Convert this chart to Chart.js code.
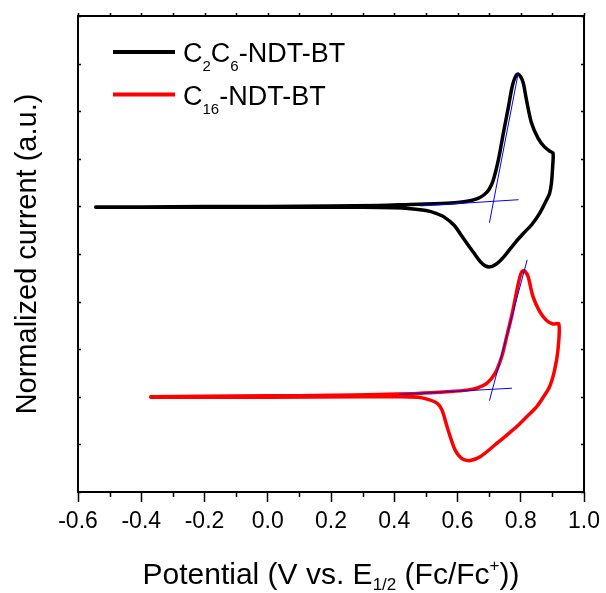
<!DOCTYPE html>
<html>
<head>
<meta charset="utf-8">
<script src="https://cdn.jsdelivr.net/npm/chart.js@4.4.1/dist/chart.umd.min.js"></script>
<style>
  html, body { margin: 0; padding: 0; background: #fff; }
  #wrap { width: 606px; height: 593px; }
</style>
</head>
<body>
<div id="wrap"><canvas id="cvChart" width="606" height="593"></canvas></div>
<script>
// Cyclic voltammograms (normalised, offset), potential in V vs. E1/2(Fc/Fc+)
const c2c6Potential = [-0.544, -0.4, -0.2, 0.0, 0.2, 0.35, 0.45, 0.55, 0.60, 0.64, 0.665, 0.685, 0.70,
  0.713, 0.729, 0.745, 0.761, 0.774, 0.785, 0.792, 0.800, 0.808, 0.818, 0.834, 0.855, 0.875, 0.894, 0.902,
  0.901, 0.897, 0.891, 0.881, 0.860, 0.835, 0.808, 0.780, 0.755, 0.735, 0.718, 0.703, 0.688, 0.672, 0.651,
  0.630, 0.609, 0.590, 0.557, 0.530, 0.504, 0.452, 0.40, 0.30, 0.10, -0.10, -0.30, -0.544];
const c2c6Current = [5.99, 5.99, 6.00, 6.00, 6.01, 6.02, 6.04, 6.06, 6.08, 6.12, 6.17, 6.25, 6.36,
  6.55, 6.97, 7.54, 8.09, 8.55, 8.75, 8.78, 8.72, 8.59, 8.24, 7.75, 7.43, 7.25, 7.15, 7.12,
  6.85, 6.49, 6.27, 6.13, 5.86, 5.62, 5.43, 5.22, 5.01, 4.86, 4.77, 4.73, 4.75, 4.84, 5.03,
  5.22, 5.42, 5.60, 5.78, 5.86, 5.91, 5.95, 5.97, 5.98, 5.98, 5.98, 5.98, 5.98];

const c16Potential = [-0.37, -0.2, 0.0, 0.2, 0.35, 0.473, 0.577, 0.63, 0.661, 0.6925, 0.7186, 0.7396,
  0.7553, 0.773, 0.790, 0.800, 0.8077, 0.8155, 0.8234, 0.839, 0.860, 0.8808, 0.9018, 0.9206,
  0.9175, 0.907, 0.891, 0.870, 0.850, 0.8187, 0.7867, 0.755, 0.724, 0.6715, 0.640, 0.620, 0.609,
  0.598, 0.588, 0.567, 0.551, 0.536, 0.504, 0.473, 0.40, 0.30, 0.0, -0.2, -0.37];
const c16Current = [2.00, 2.01, 2.02, 2.03, 2.05, 2.07, 2.11, 2.14, 2.18, 2.28, 2.49, 2.84,
  3.26, 3.75, 4.31, 4.58, 4.65, 4.62, 4.52, 4.10, 3.79, 3.61, 3.53, 3.53,
  2.98, 2.56, 2.21, 1.98, 1.79, 1.58, 1.37, 1.19, 1.02, 0.74, 0.66, 0.68, 0.73,
  0.82, 0.95, 1.37, 1.72, 1.86, 1.95, 1.99, 2.00, 2.00, 1.99, 1.99, 1.99];

// onset tangents (baseline and rising edge)
const c2c6BaseTanX = [0.483, 0.792];
const c2c6BaseTanY = [6.01, 6.14];
const c2c6RiseTanX = [0.701, 0.792];
const c2c6RiseTanY = [5.66, 8.80];
const c16BaseTanX = [0.4155, 0.771];
const c16BaseTanY = [2.05, 2.18];
const c16RiseTanX = [0.701, 0.820];
const c16RiseTanY = [1.92, 4.87];

const xMin = -0.6, xMax = 1.0, xStep = 0.2, xMinorStep = 0.1;
const yMin = 0, yMax = 10, yStep = 1;

const FONT = '"Liberation Sans", Arial, sans-serif';

const toPoints = (xs, ys) => xs.map((x, i) => ({ x: x, y: ys[i] }));

// text runs with sub/superscripts: [text, 'sub'|'sup'|undefined]
function richWidth(ctx, parts, size) {
    let w = 0;
    parts.forEach(([t, kind]) => {
        ctx.font = `${kind ? Math.round(size * 0.56) : size}px ${FONT}`;
        w += ctx.measureText(t).width;
    });
    return w;
}

function drawRich(ctx, parts, x, y, size, subShift) {
    let cx = x;
    parts.forEach(([t, kind]) => {
        ctx.font = `${kind ? Math.round(size * 0.56) : size}px ${FONT}`;
        let dy = 0;
        if (kind === 'sub') dy = size * subShift;
        if (kind === 'sup') dy = -size * 0.42;
        ctx.fillText(t, cx, y + dy);
        cx += ctx.measureText(t).width;
    });
}

const legendItems = [
    { color: '#000000', parts: [['C'], ['2', 'sub'], ['C'], ['6', 'sub'], ['-NDT-BT']] },
    { color: '#ff0000', parts: [['C'], ['16', 'sub'], ['-NDT-BT']] }
];

const xTitleParts = [['Potential (V vs. E'], ['1/2', 'sub'], [' (Fc/Fc'], ['+', 'sup'], ['))']];
const yTitle = 'Normalized current (a.u.)';

// ========================================
// FRAME, EXTRA TICKS, TITLES, LEGEND
// ========================================
const decorPlugin = {
    id: 'decor',
    afterDraw(chart) {
        const { ctx, chartArea: a, scales } = chart;
        const xs = scales.x, ys = scales.y;
        ctx.save();
        ctx.strokeStyle = '#000';
        ctx.fillStyle = '#000';

        // minor ticks below, short ticks on top
        ctx.lineWidth = 1.5;
        ctx.beginPath();
        for (let v = xMin; v <= xMax + 1e-9; v += xMinorStep) {
            const px = Math.round(xs.getPixelForValue(v)) + 0.5;
            const major = Math.abs(Math.round(v / xStep) * xStep - v) < 1e-6;
            if (!major) {
                ctx.moveTo(px, a.bottom);
                ctx.lineTo(px, a.bottom + 5);
            }
            ctx.moveTo(px, a.top);
            ctx.lineTo(px, a.top - 3);
        }
        // inward ticks on left and right
        ys.ticks.forEach(t => {
            const py = Math.round(ys.getPixelForValue(t.value)) + 0.5;
            ctx.moveTo(a.left, py);
            ctx.lineTo(a.left + 3, py);
            ctx.moveTo(a.right, py);
            ctx.lineTo(a.right - 3, py);
        });
        ctx.stroke();

        // frame
        ctx.lineWidth = 2;
        ctx.strokeRect(a.left, a.top, a.right - a.left, a.bottom - a.top);

        // legend
        ctx.textBaseline = 'alphabetic';
        ctx.textAlign = 'left';
        legendItems.forEach((item, i) => {
            const ly = a.top + 36 + i * 42.5;
            ctx.strokeStyle = item.color;
            ctx.lineWidth = 4;
            ctx.beginPath();
            ctx.moveTo(a.left + 35, ly);
            ctx.lineTo(a.left + 97, ly);
            ctx.stroke();
            ctx.fillStyle = '#000';
            drawRich(ctx, item.parts, a.left + 105, ly + 10, 27, 0.34);
        });

        // x title
        const tw = richWidth(ctx, xTitleParts, 30);
        drawRich(ctx, xTitleParts, (a.left + a.right) / 2 - tw / 2, 584, 30, 0.2);

        // y title
        ctx.translate(36, (a.top + a.bottom) / 2);
        ctx.rotate(-Math.PI / 2);
        ctx.textAlign = 'center';
        ctx.font = `29px ${FONT}`;
        ctx.fillText(yTitle, 0, 0);
        ctx.restore();
    }
};

const ctx = document.getElementById('cvChart').getContext('2d');

new Chart(ctx, {
    type: 'scatter',
    data: {
        datasets: [
            { label: 'tan1', data: toPoints(c2c6BaseTanX, c2c6BaseTanY), borderColor: '#0000ff', borderWidth: 1, order: 0 },
            { label: 'tan2', data: toPoints(c2c6RiseTanX, c2c6RiseTanY), borderColor: '#0000ff', borderWidth: 1, order: 0 },
            { label: 'tan3', data: toPoints(c16BaseTanX, c16BaseTanY), borderColor: '#0000ff', borderWidth: 1, order: 0 },
            { label: 'tan4', data: toPoints(c16RiseTanX, c16RiseTanY), borderColor: '#0000ff', borderWidth: 1, order: 0 },
            { label: 'C2C6-NDT-BT', data: toPoints(c2c6Potential, c2c6Current), borderColor: '#000000', borderWidth: 3.5, tension: 0.3, order: 1 },
            { label: 'C16-NDT-BT', data: toPoints(c16Potential, c16Current), borderColor: '#ff0000', borderWidth: 3.5, tension: 0.3, order: 2 }
        ].map(d => Object.assign({ showLine: true, pointRadius: 0, borderCapStyle: 'round', borderJoinStyle: 'round' }, d))
    },
    options: {
        responsive: false,
        animation: false,
        devicePixelRatio: 1,
        layout: { padding: { top: 16, right: 18, left: 0, bottom: 0 } },
        plugins: {
            legend: { display: false },
            tooltip: { enabled: false }
        },
        scales: {
            x: {
                type: 'linear',
                min: xMin,
                max: xMax,
                border: { display: false },
                grid: { drawOnChartArea: false, drawTicks: true, tickLength: 10, tickWidth: 1.5, tickColor: '#000' },
                ticks: {
                    stepSize: xStep,
                    color: '#000',
                    padding: 6,
                    maxRotation: 0,
                    font: { family: FONT, size: 23 },
                    callback: v => (Math.abs(v) < 1e-9 ? 0 : v).toFixed(1)
                },
                afterFit: s => { s.height = 101; }
            },
            y: {
                type: 'linear',
                min: yMin,
                max: yMax,
                border: { display: false },
                grid: { display: false },
                ticks: { stepSize: yStep, display: false },
                afterFit: s => { s.width = 78; }
            }
        }
    },
    plugins: [decorPlugin]
});
</script>
</body>
</html>
